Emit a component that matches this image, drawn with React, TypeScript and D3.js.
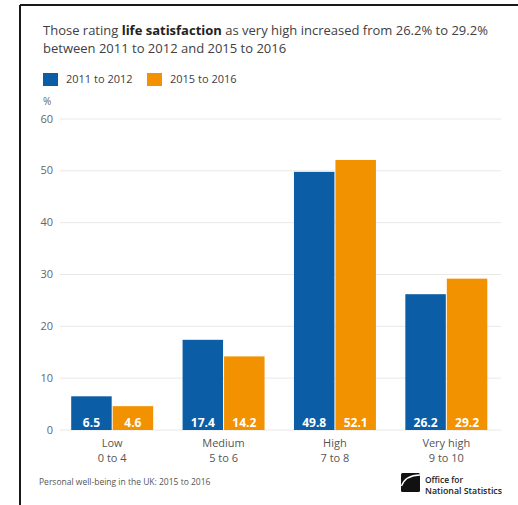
import React from "react";
import * as d3 from "d3";

// Life satisfaction ratings by band, percentage of adults
const categories = ["Low", "Medium", "High", "Very high"];
const categoryRanges = ["0 to 4", "5 to 6", "7 to 8", "9 to 10"];
const seriesNames = ["2011 to 2012", "2015 to 2016"];
const values2011 = [6.5, 17.4, 49.8, 26.2];
const values2016 = [4.6, 14.2, 52.1, 29.2];
const yTicks = [0, 10, 20, 30, 40, 50, 60];
const titleParts = ["Those rating", "life satisfaction", "as very high increased from 26.2% to 29.2%"];

const W = 518;
const H = 505;
const BLUE = "#0b5ea6";
const ORANGE = "#f39200";
const FONT = "'Open Sans', 'Noto Sans', sans-serif";

let measureCtx: CanvasRenderingContext2D | null = null;
function textWidth(s: string, font: string): number {
  if (!measureCtx) measureCtx = document.createElement("canvas").getContext("2d");
  if (!measureCtx) return s.length * 6.5;
  measureCtx.font = font;
  return measureCtx.measureText(s).width;
}

export default function App() {
  const y = d3.scaleLinear().domain([0, 60]).range([430, 119]);
  const x0 = d3
    .scaleBand<string>()
    .domain(categories)
    .range([56.5, 502])
    .paddingInner(0.255)
    .paddingOuter(0.1275);
  const x1 = d3
    .scaleBand<string>()
    .domain(seriesNames)
    .range([0, x0.bandwidth()])
    .padding(0);
  const colors = d3.scaleOrdinal<string, string>().domain(seriesNames).range([BLUE, ORANGE]);
  const series = [values2011, values2016];

  // lay out the title's first line word group by word group so the bold phrase sits inline
  const regular = `13px ${FONT}`;
  const bold = `bold 13px ${FONT}`;
  const space = textWidth(" ", regular);
  const tx0 = 43;
  const tx1 = tx0 + textWidth(titleParts[0], regular) + space;
  const tx2 = tx1 + textWidth(titleParts[1], bold) + space;
  const titleY1 = 34.5;
  const titleY2 = 52.5;

  return (
    <div style={{ position: "absolute", left: 0, top: 0 }}>
      <svg width={W} height={H} style={{ display: "block", background: "#fff" }} fontFamily={FONT}>
        {/* frame */}
        <line x1={20} y1={5} x2={W} y2={5} stroke="#1a1a1a" strokeWidth={2} />
        <line x1={20} y1={5} x2={20} y2={H} stroke="#1a1a1a" strokeWidth={2} />

        {/* title */}
        <text x={tx0} y={titleY1} fontSize={13} fill="#414042">
          {titleParts[0]}
        </text>
        <text x={tx1} y={titleY1} fontSize={13} fontWeight="bold" fill="#222">
          {titleParts[1]}
        </text>
        <text x={tx2} y={titleY1} fontSize={13} fill="#414042">
          {titleParts[2]}
        </text>
        <text x={43} y={titleY2} fontSize={13} fill="#414042">
          between 2011 to 2012 and 2015 to 2016
        </text>

        {/* legend */}
        {seriesNames.map((s, i) => {
          const lx = [43, 147][i];
          return (
            <g key={s}>
              <rect x={lx} y={73} width={15} height={13} fill={colors(s)} />
              <text x={lx + 23} y={83} fontSize={11} fill="#414042">
                {s}
              </text>
            </g>
          );
        })}

        {/* y axis */}
        <text x={43} y={105} fontSize={10} fill="#666">
          %
        </text>
        {yTicks.map((t) => (
          <g key={t}>
            <line x1={60} x2={501} y1={y(t)} y2={y(t)} stroke="#e8e8e8" strokeWidth={1} />
            <text x={53} y={y(t)} dy="0.32em" textAnchor="end" fontSize={11} fill="#666">
              {t}
            </text>
          </g>
        ))}

        {/* bars */}
        {categories.map((c, ci) => (
          <g key={c} transform={`translate(${x0(c)},0)`}>
            {seriesNames.map((s, si) => {
              const v = series[si][ci];
              const bx = x1(s) as number;
              return (
                <g key={s}>
                  <rect
                    x={bx + 0.5}
                    y={y(v)}
                    width={x1.bandwidth() - 1}
                    height={y(0) - y(v)}
                    fill={colors(s)}
                  />
                  <text
                    x={bx + x1.bandwidth() / 2}
                    y={y(0) - 3}
                    textAnchor="middle"
                    fontSize={12}
                    fontWeight="bold"
                    fill="#fff"
                  >
                    {v.toFixed(1)}
                  </text>
                </g>
              );
            })}
            <text x={x0.bandwidth() / 2} y={447} textAnchor="middle" fontSize={11} fill="#555">
              {c}
            </text>
            <text x={x0.bandwidth() / 2} y={462} textAnchor="middle" fontSize={11} fill="#555">
              {categoryRanges[ci]}
            </text>
          </g>
        ))}

        {/* source */}
        <text x={39} y={485} fontSize={8.5} fill="#555">
          Personal well-being in the UK: 2015 to 2016
        </text>

        {/* publisher mark */}
        <g transform="translate(401,473)">
          <rect x={0} y={0} width={19} height={19} rx={1.5} fill="#111" />
          <path d="M0.5,13 C3,6 9,2.2 19,2" fill="none" stroke="#fff" strokeWidth={1.3} />
        </g>
        <text x={425} y={482.5} fontSize={8} fontWeight={600} fill="#222" textLength={38} lengthAdjust="spacingAndGlyphs">
          Office for
        </text>
        <text x={425} y={494} fontSize={8} fontWeight={600} fill="#222" textLength={77} lengthAdjust="spacingAndGlyphs">
          National Statistics
        </text>
      </svg>
    </div>
  );
}
